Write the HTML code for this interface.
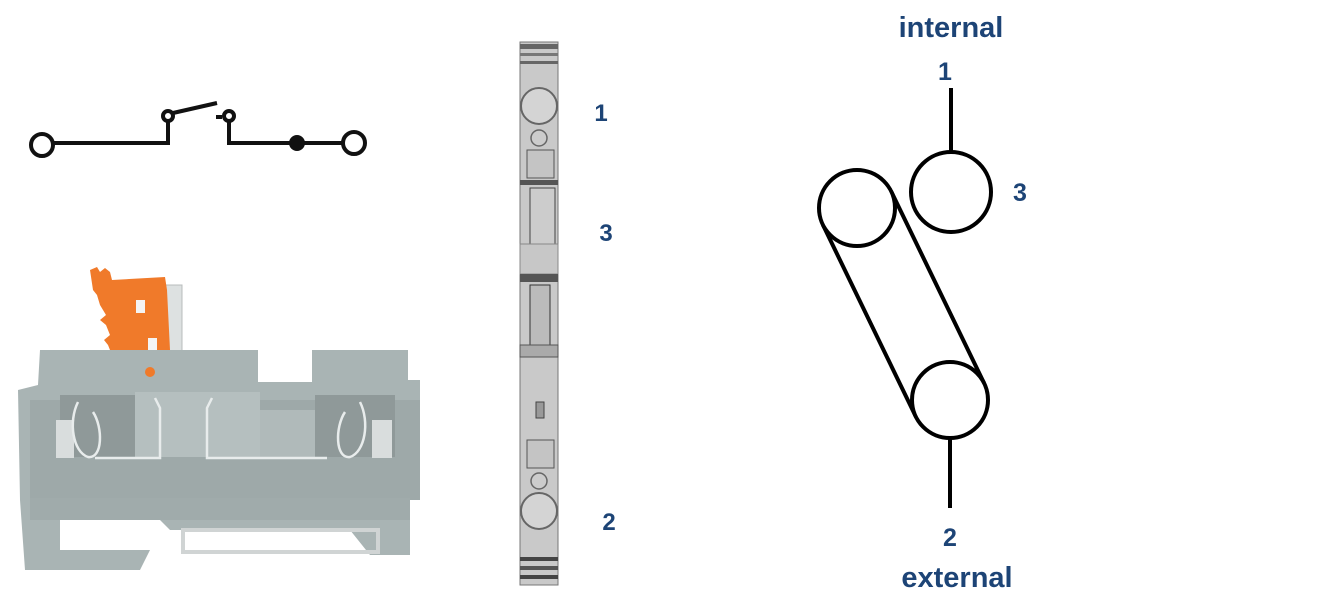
<!DOCTYPE html>
<html><head><meta charset="utf-8"><style>
html,body{margin:0;padding:0;background:#fff;}
svg{display:block}
text{font-family:"Liberation Sans",Arial,sans-serif;font-weight:bold;fill:#1d4476}
</style></head><body>
<svg width="1319" height="607" viewBox="0 0 1319 607" xmlns="http://www.w3.org/2000/svg">
<!-- switch symbol -->
<g stroke="#111" stroke-width="4" fill="none">
<circle cx="42" cy="145" r="11" fill="#fff"/>
<polyline points="53,143 168,143 168,121"/>
<circle cx="168" cy="116" r="5" fill="#fff"/>
<line x1="173" y1="113" x2="217" y2="103"/>
<line x1="216" y1="117" x2="222" y2="117"/>
<circle cx="229" cy="116" r="5" fill="#fff"/>
<polyline points="229,121 229,143 343,143"/>
<circle cx="354" cy="143" r="11" fill="#fff"/>
</g>
<circle cx="297" cy="143" r="8" fill="#111"/>

<!-- terminal block photo approximation -->
<g>
<rect x="158" y="285" width="24" height="68" fill="#dde1e1" stroke="#b8bcbc"/>
<!-- orange lever -->
<polygon points="90,270 97,267 100,272 105,268 110,272 112,280 165,277 167,290 170,350 155,353 118,355 110,350 108,345 104,340 110,335 106,325 100,320 106,315 100,305 97,295 93,290" fill="#f07a2a"/>
<rect x="136" y="300" width="9" height="13" fill="#f4f4f4"/>
<rect x="148" y="338" width="9" height="13" fill="#f4f4f4"/>
<!-- main body -->
<polygon points="40,350 258,350 258,382 312,382 312,350 408,350 408,380 420,380 420,500 410,500 410,555 370,555 350,530 170,530 160,520 150,490 60,490 60,550 150,550 140,570 25,570 20,500 18,390 38,385" fill="#a9b4b4"/>
<rect x="30" y="400" width="390" height="100" fill="#9ea9a9"/>
<rect x="60" y="395" width="75" height="62" fill="#8f9999"/>
<rect x="135" y="392" width="125" height="65" fill="#b5bfbf"/>
<rect x="260" y="410" width="55" height="48" fill="#b0baba"/>
<rect x="315" y="395" width="80" height="62" fill="#8f9999"/>
<rect x="56" y="420" width="18" height="38" fill="#d9dddd"/>
<rect x="372" y="420" width="20" height="38" fill="#d9dddd"/>
<g stroke="#e8ecec" stroke-width="2.5" fill="none">
<path d="M78,402 c-10,20 -5,50 10,55 c15,2 15,-30 5,-45"/>
<path d="M360,402 c10,20 5,50 -10,55 c-15,2 -15,-30 -5,-45"/>
<path d="M155,398 l5,10 v50 h-65"/>
<path d="M212,398 l-5,10 v50 h120"/>
</g>
<circle cx="150" cy="372" r="5" fill="#f07a2a"/>
<rect x="30" y="498" width="380" height="22" fill="#a0abab"/>
<rect x="183" y="530" width="195" height="22" fill="none" stroke="#d0d4d4" stroke-width="4"/>
</g>

<!-- side strip -->
<g>
<rect x="520" y="42" width="38" height="543" fill="#c9c9c9" stroke="#777" stroke-width="1"/>
<rect x="520" y="44" width="38" height="5" fill="#666"/>
<rect x="520" y="53" width="38" height="3" fill="#777"/>
<rect x="520" y="61" width="38" height="3" fill="#666"/>
<circle cx="539" cy="106" r="18" fill="#d4d4d4" stroke="#666" stroke-width="2"/>
<circle cx="539" cy="138" r="8" fill="#ccc" stroke="#666" stroke-width="1.5"/>
<rect x="527" y="150" width="27" height="28" fill="#c4c4c4" stroke="#555"/>
<rect x="520" y="180" width="38" height="5" fill="#555"/>
<rect x="530" y="188" width="25" height="56" fill="#ccc" stroke="#444"/>
<rect x="520" y="244" width="38" height="30" fill="#c7c7c7" stroke="#888"/>
<rect x="520" y="274" width="38" height="8" fill="#555"/>
<rect x="530" y="285" width="20" height="60" fill="#bbb" stroke="#333"/>
<rect x="520" y="345" width="38" height="12" fill="#aaa" stroke="#555"/>
<rect x="536" y="402" width="8" height="16" fill="#999" stroke="#444"/>
<rect x="527" y="440" width="27" height="28" fill="#c4c4c4" stroke="#555"/>
<circle cx="539" cy="481" r="8" fill="#ccc" stroke="#666" stroke-width="1.5"/>
<circle cx="539" cy="511" r="18" fill="#d4d4d4" stroke="#666" stroke-width="2"/>
<rect x="520" y="557" width="38" height="4" fill="#444"/>
<rect x="520" y="566" width="38" height="4" fill="#555"/>
<rect x="520" y="575" width="38" height="4" fill="#444"/>
</g>
<text x="601" y="121" font-size="24" text-anchor="middle">1</text>
<text x="606" y="241" font-size="24" text-anchor="middle">3</text>
<text x="609" y="530" font-size="24" text-anchor="middle">2</text>

<!-- right diagram -->
<g stroke="#000" stroke-width="4" fill="#fff">
<line x1="951" y1="88" x2="951" y2="152"/>
<line x1="950" y1="438" x2="950" y2="508"/>
<line x1="823" y1="225" x2="916" y2="417"/>
<line x1="891" y1="191" x2="984" y2="383"/>
<circle cx="951" cy="192" r="40"/>
<circle cx="857" cy="208" r="38"/>
<circle cx="950" cy="400" r="38"/>
</g>
<text x="951" y="37" font-size="29" text-anchor="middle">internal</text>
<text x="945" y="80" font-size="25" text-anchor="middle">1</text>
<text x="1020" y="201" font-size="25" text-anchor="middle">3</text>
<text x="950" y="546" font-size="25" text-anchor="middle">2</text>
<text x="957" y="587" font-size="29" text-anchor="middle">external</text>
</svg>
</body></html>
